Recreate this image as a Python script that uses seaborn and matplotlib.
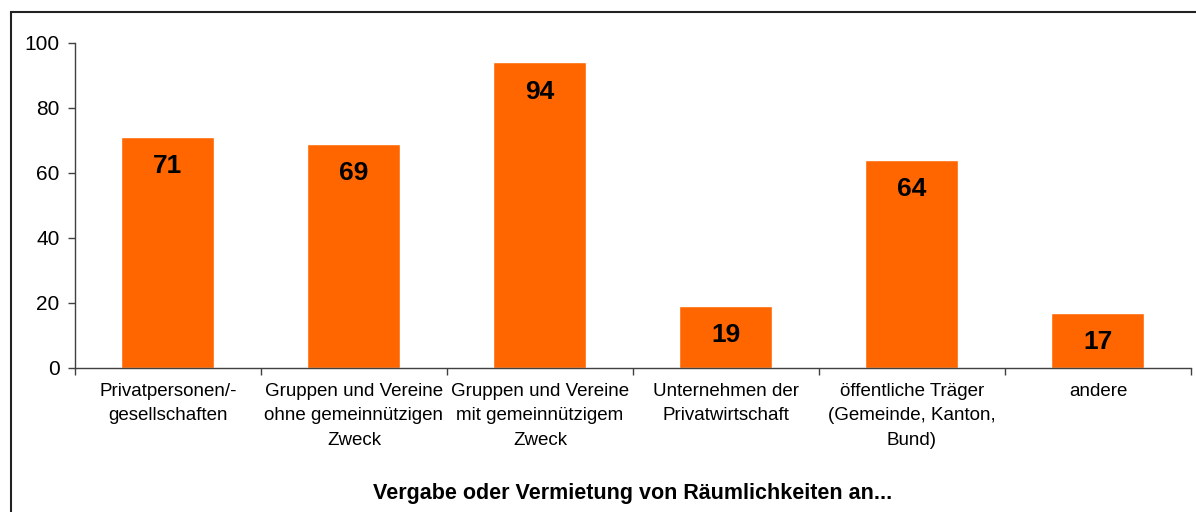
import numpy as np
import pandas as pd
import seaborn as sns
import matplotlib.pyplot as plt
from matplotlib.patches import Rectangle

categories = [
    "Privatpersonen/-\ngesellschaften",
    "Gruppen und Vereine\nohne gemeinnützigen\nZweck",
    "Gruppen und Vereine\nmit gemeinnützigem\nZweck",
    "Unternehmen der\nPrivatwirtschaft",
    "öffentliche Träger\n(Gemeinde, Kanton,\nBund)",
    "andere",
]
values = [71, 69, 94, 19, 64, 17]
xlabel = "Vergabe oder Vermietung von Räumlichkeiten an..."

df = pd.DataFrame({"Kategorie": categories, "Wert": values})

sns.set_style("white")
plt.rcParams["font.family"] = ["Liberation Sans", "DejaVu Sans"]

fig = plt.figure(figsize=(11.96, 5.12), dpi=100)
ax = fig.add_axes([0.0627, 0.2813, 0.9331, 0.6348])

sns.barplot(data=df, x="Kategorie", y="Wert", color="#FF6600", saturation=1,
            width=0.5, ax=ax)

for i, v in enumerate(values):
    ax.text(i, v - 9, str(v), ha="center", va="center",
            fontsize=19, fontweight="bold", color="black")

ax.set_ylim(0, 100)
ax.set_xlim(-0.5, len(categories) - 0.5)
ax.set_yticks(range(0, 101, 20))
ax.tick_params(axis="y", labelsize=15, labelcolor="black", length=5, width=1,
               color="#404040", direction="out", left=True, pad=6)
ax.set_xticks(np.arange(-0.5, len(categories), 1), minor=True)
ax.tick_params(axis="x", which="major", length=0, labelsize=13.5,
               labelcolor="black", pad=11)
ax.tick_params(axis="x", which="minor", length=5, width=1, color="#404040",
               direction="out", bottom=True)
for lbl in ax.get_xticklabels():
    lbl.set_linespacing(1.55)
    lbl.set_verticalalignment("top")

ax.set_ylabel("")
ax.set_xlabel(xlabel, fontsize=15.5, fontweight="bold", color="black",
              labelpad=25)

sns.despine(ax=ax)
for s in ["left", "bottom"]:
    ax.spines[s].set_color("#404040")
    ax.spines[s].set_linewidth(1)

# outer frame (only left and top visible in the picture)
fig.patches.append(Rectangle((0.0092, -0.2), 2, 0.9766 + 0.2,
                             transform=fig.transFigure, fill=False,
                             edgecolor="#222222", linewidth=1.5))

fig.savefig("out.png", dpi=100)
